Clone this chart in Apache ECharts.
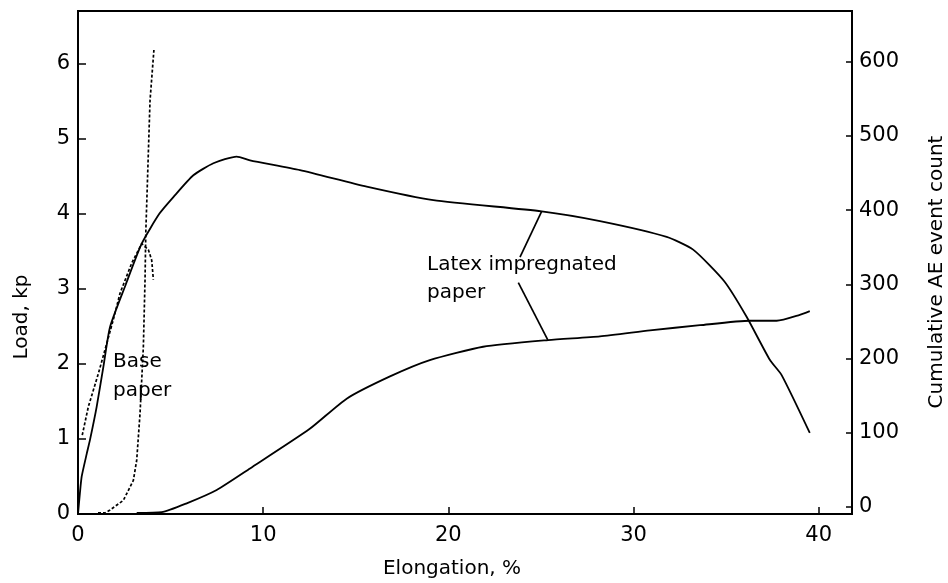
<!DOCTYPE html>
<html>
<head>
<meta charset="utf-8">
<title>Load and cumulative AE count vs elongation</title>
<script src="https://cdn.jsdelivr.net/npm/echarts@6/dist/echarts.min.js"></script>
<style>
  html, body { margin: 0; padding: 0; background: #fff; }
  #chart { width: 948px; height: 583px; }
</style>
</head>
<body>
<div id="chart"></div>
<script>
// Axis ticks
const elongationTicks = [0, 10, 20, 30, 40];
const loadTicks = [0, 1, 2, 3, 4, 5, 6];
const aeTicks = [0, 100, 200, 300, 400, 500, 600];

// Latex impregnated paper: load (kp) against elongation (%)
const latexLoadElong = [0, 0.1, 0.2, 0.47, 0.65, 1.01, 1.37, 1.73, 2.57, 3.44, 4.4, 5.15, 6.23, 7.31, 8.57, 9.29, 11.99, 15.59, 19.19, 25.04, 28.19, 31.79, 33.22, 34.9, 36.1, 37.37, 38.0, 39.52];
const latexLoad      = [0, 0.27, 0.5, 0.8, 0.99, 1.43, 1.96, 2.49, 3.05, 3.6, 4.0, 4.22, 4.51, 4.67, 4.76, 4.71, 4.58, 4.36, 4.18, 4.03, 3.9, 3.69, 3.52, 3.1, 2.63, 2.05, 1.85, 1.08];

// Latex impregnated paper: cumulative AE event count
const latexAEElong = [3.17, 4.52, 5.87, 7.49, 9.29, 12.5, 14.51, 16.85, 19.0, 21.88, 25.39, 28.19, 30.89, 33.59, 36.29, 37.73, 38.98, 39.52];
const latexAE      = [-8, -7, 5, 23, 52, 105, 146, 176, 198, 216, 225, 230, 238, 245, 251, 251, 259, 264];

// Base paper: load (kp)
const baseLoadElong = [0.23, 0.56, 1.1, 1.9, 2.27, 2.9, 3.44, 3.8, 3.98, 4.07];
const baseLoad      = [1.05, 1.43, 1.87, 2.58, 2.94, 3.34, 3.6, 3.52, 3.38, 3.12];

// Base paper: cumulative AE event count
const baseAEElong = [1.08, 1.46, 1.73, 2.45, 2.99, 3.17, 3.35, 3.53, 3.62, 3.66, 3.89, 4.1];
const baseAE      = [-8, -8, -4, 9, 36, 63, 126, 216, 306, 369, 548, 616];

// Leader lines from the "Latex impregnated paper" note to its two curves (elongation %, load kp)
const leaderToLoad = [[25.04, 4.03], [23.87, 3.42]];
const leaderToAE   = [[23.78, 3.08], [25.37, 2.32]];

const zip = (xs, ys) => xs.map((x, i) => [x, ys[i]]);

const FONT = 'DejaVu Sans';
const INK = '#000';
const tickText = { fontFamily: FONT, fontSize: 21, color: INK };
const noteFont = `20px "${FONT}"`;

const chart = echarts.init(document.getElementById('chart'), null, { renderer: 'canvas' });

chart.setOption({
  backgroundColor: '#fff',
  animation: false,
  grid: {
    left: 78, right: 96, top: 11, bottom: 69,
    show: true, borderColor: INK, borderWidth: 2, backgroundColor: 'transparent'
  },
  xAxis: {
    type: 'value', min: 0, max: 41.8,
    axisLine: { show: true, onZero: false, lineStyle: { color: INK, width: 2 } },
    axisTick: { show: true, inside: true, length: 7, lineStyle: { color: INK, width: 1.5 }, customValues: elongationTicks },
    axisLabel: { ...tickText, margin: 11, customValues: elongationTicks, formatter: v => String(v) },
    splitLine: { show: false }
  },
  yAxis: [
    {
      type: 'value', position: 'left', min: 0, max: 6.698,
      axisLine: { show: true, onZero: false, lineStyle: { color: INK, width: 2 } },
      axisTick: { show: true, inside: true, length: 8, lineStyle: { color: INK, width: 1.5 }, customValues: loadTicks },
      axisLabel: { ...tickText, margin: 8, customValues: loadTicks, formatter: v => String(v) },
      splitLine: { show: false }
    },
    {
      type: 'value', position: 'right', min: -9.43, max: 668.5,
      axisLine: { show: true, onZero: false, lineStyle: { color: INK, width: 2 } },
      axisTick: { show: true, inside: true, length: 6, lineStyle: { color: INK, width: 1.5 }, customValues: aeTicks },
      axisLabel: { ...tickText, margin: 7, customValues: aeTicks, formatter: v => String(v) },
      splitLine: { show: false }
    }
  ],
  series: [
    {
      name: 'Latex impregnated paper load',
      type: 'line', yAxisIndex: 0, showSymbol: false, smooth: 0.2,
      data: zip(latexLoadElong, latexLoad),
      lineStyle: { color: INK, width: 1.8 },
      markLine: {
        silent: true, symbol: ['none', 'none'], label: { show: false },
        lineStyle: { color: INK, width: 1.7, type: 'solid' },
        data: [
          [{ coord: leaderToLoad[0] }, { coord: leaderToLoad[1] }],
          [{ coord: leaderToAE[0] }, { coord: leaderToAE[1] }]
        ]
      }
    },
    {
      name: 'Latex impregnated paper AE count',
      type: 'line', yAxisIndex: 1, showSymbol: false, smooth: 0.2,
      data: zip(latexAEElong, latexAE),
      lineStyle: { color: INK, width: 1.8 }
    },
    {
      name: 'Base paper load',
      type: 'line', yAxisIndex: 0, showSymbol: false,
      data: zip(baseLoadElong, baseLoad),
      lineStyle: { color: INK, width: 1.7, type: [3, 2] }
    },
    {
      name: 'Base paper AE count',
      type: 'line', yAxisIndex: 1, showSymbol: false,
      data: zip(baseAEElong, baseAE),
      lineStyle: { color: INK, width: 1.7, type: [3, 2] }
    }
  ],
  graphic: [
    { type: 'text', x: 452, y: 569, style: { text: 'Elongation, %', font: noteFont, fill: INK, align: 'center', verticalAlign: 'middle' } },
    { type: 'text', x: 22, y: 317, rotation: Math.PI / 2, style: { text: 'Load, kp', font: noteFont, fill: INK, align: 'center', verticalAlign: 'middle' } },
    { type: 'text', x: 937, y: 272, rotation: Math.PI / 2, style: { text: 'Cumulative AE event count', font: noteFont, fill: INK, align: 'center', verticalAlign: 'middle' } },
    { type: 'text', x: 427, y: 265, style: { text: 'Latex impregnated', font: noteFont, fill: INK, align: 'left', verticalAlign: 'middle' } },
    { type: 'text', x: 427, y: 293, style: { text: 'paper', font: noteFont, fill: INK, align: 'left', verticalAlign: 'middle' } },
    { type: 'text', x: 113, y: 362, style: { text: 'Base', font: noteFont, fill: INK, align: 'left', verticalAlign: 'middle' } },
    { type: 'text', x: 113, y: 391, style: { text: 'paper', font: noteFont, fill: INK, align: 'left', verticalAlign: 'middle' } }
  ]
});
</script>
</body>
</html>
